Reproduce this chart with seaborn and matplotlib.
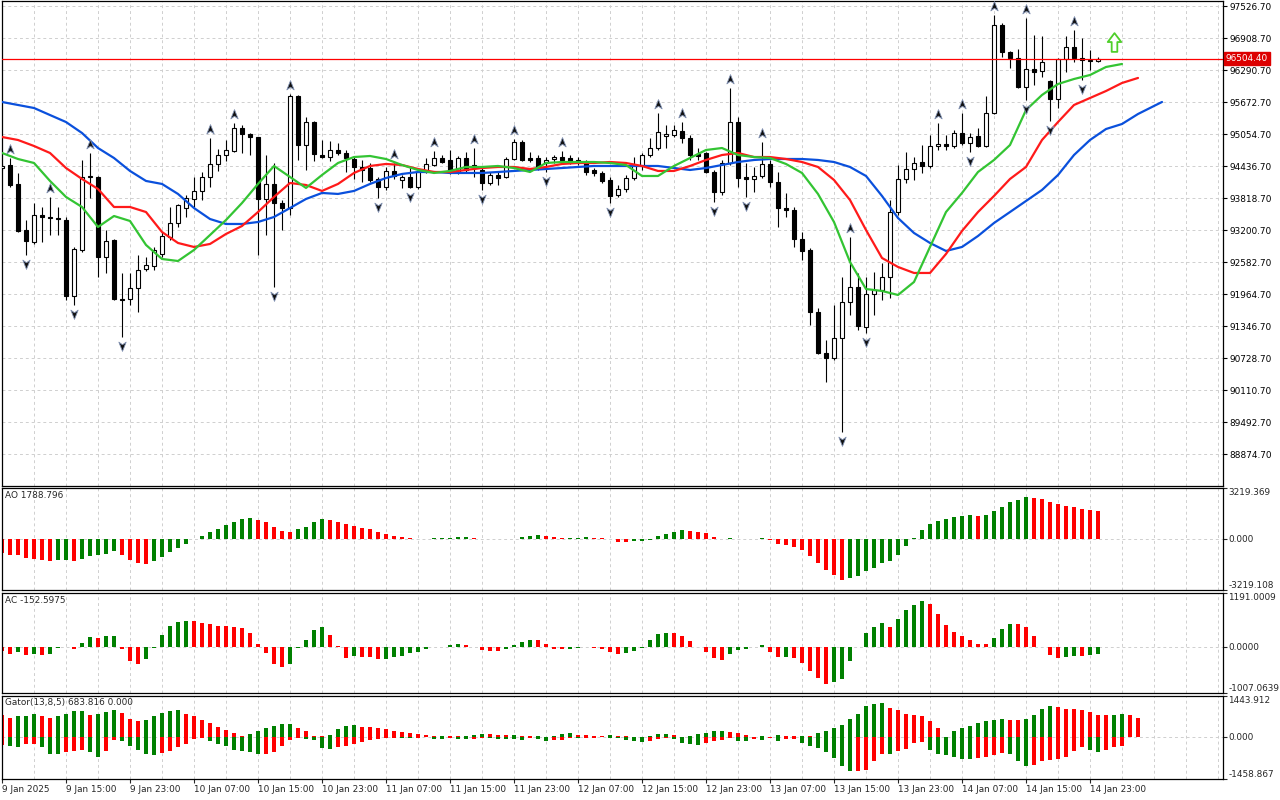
import numpy as np
import matplotlib
matplotlib.use("Agg")
import matplotlib.pyplot as plt
import seaborn as sns
from matplotlib.path import Path
from matplotlib import transforms

# ---------------- data ----------------
opens = [94398, 94456, 94090, 93201, 92969, 93490, 93452, 93432, 93394, 91926,
         92815, 94225, 94225, 92680, 93008, 91868, 91868, 92080, 92448, 92506,
         92738, 93066, 93336, 93626, 93800, 93955, 94225, 94476, 94649, 94727,
         95170, 95055, 94997, 93800, 94090, 93722, 93626, 95789, 94842, 95286,
         94649, 94610, 94746, 94688, 94572, 94418, 94398, 94186, 94032, 94341,
         94167, 94225, 94032, 94321, 94456, 94591, 94553, 94321, 94591, 94456,
         94360, 94109, 94263, 94225, 94572, 94900, 94591, 94591, 94495, 94572,
         94610, 94591, 94553, 94495, 94360, 94302, 94167, 93877, 93993, 94205,
         94437, 94649, 94785, 95016, 95035, 95113, 94978, 94668, 94688, 94321,
         93935, 94495, 95286, 94225, 94186, 94244, 94476, 94128, 93626, 93587,
         93027, 92815, 91617, 90826, 90729, 91116, 91810, 92100, 91328, 91965,
         92042, 92294, 93548, 94186, 94379, 94514, 94437, 94823, 94862, 94823,
         95074, 94881, 95016, 94823, 95460, 97160, 96638, 96523, 95963, 96310,
         96272, 96079, 95731, 96503, 96735, 96523, 96484, 96465]
highs = [94476, 94591, 94302, 93394, 93722, 93645, 93839, 93645, 93452, 92873,
         94553, 94688, 94244, 93201, 93027, 92371, 92371, 92718, 92680, 92873,
         93162, 93645, 93703, 93877, 94225, 94321, 94978, 94765, 94939, 95267,
         95228, 95074, 95000, 94649, 94495, 93780, 95828, 95808, 95383, 95306,
         94939, 94920, 94881, 94746, 94610, 94553, 94495, 94225, 94418, 94495,
         94263, 94418, 94341, 94591, 94727, 94649, 94746, 94630, 94707, 94785,
         94398, 94321, 94321, 94610, 94958, 94939, 94707, 94649, 94610, 94649,
         94727, 94649, 94610, 94553, 94398, 94341, 94225, 94070, 94263, 94610,
         94688, 94978, 95460, 95228, 95228, 95286, 95035, 94785, 94707, 94360,
         94553, 95943, 95383, 94495, 94418, 94900, 94553, 94321, 93916, 93645,
         93162, 92854, 91694, 91077, 91752, 92294, 93066, 92371, 92294, 92390,
         92564, 93780, 94456, 94707, 94610, 94842, 95035, 95267, 95035, 95132,
         95460, 95074, 95171, 95789, 97353, 97199, 96658, 96696, 97295, 96967,
         96948, 96098, 96523, 96948, 97063, 96909, 96677, 96542]
lows = [94360, 94032, 93162, 92718, 92931, 92969, 93104, 93104, 91849, 91752,
        92776, 93819, 92294, 92371, 91849, 91135, 91752, 91617, 92410, 92429,
        92680, 93008, 93259, 93452, 93645, 93780, 94032, 94341, 94534, 94707,
        94688, 94649, 92718, 93104, 92100, 93201, 93490, 94553, 94360, 94534,
        94591, 94534, 94649, 94321, 94186, 94128, 94128, 93819, 93974, 94186,
        94013, 94013, 93993, 94302, 94437, 94495, 94283, 94283, 94321, 94225,
        93974, 94070, 94070, 94205, 94553, 94534, 94514, 94360, 94321, 94495,
        94514, 94476, 94456, 94263, 94244, 94109, 93722, 93839, 93935, 94167,
        94360, 94610, 94746, 94785, 94997, 94881, 94553, 94553, 94302, 93742,
        93877, 94456, 94032, 93839, 93935, 94205, 94032, 93259, 93452, 92873,
        92622, 91366, 90807, 90265, 90690, 89300, 91559, 91270, 91212, 91559,
        91849, 91887, 93490, 94109, 94167, 94302, 94398, 94746, 94746, 94785,
        94842, 94707, 94804, 94804, 95441, 96542, 96330, 95943, 95712, 96001,
        96156, 95306, 95557, 96252, 96445, 96098, 96291, 96445]
closes = [94437, 94070, 93182, 92989, 93490, 93452, 93432, 93413, 91926, 92834,
          94225, 94244, 92680, 92989, 91868, 91849, 92080, 92429, 92525, 92815,
          93085, 93336, 93684, 93819, 93955, 94225, 94476, 94649, 94746, 95171,
          95055, 94997, 93800, 94090, 93722, 93626, 95789, 94842, 95286, 94668,
          94610, 94746, 94688, 94591, 94418, 94360, 94167, 94032, 94341, 94244,
          94225, 94032, 94321, 94476, 94591, 94514, 94321, 94591, 94360, 94418,
          94109, 94263, 94205, 94572, 94900, 94553, 94553, 94418, 94553, 94610,
          94553, 94534, 94514, 94321, 94302, 94148, 93858, 93993, 94205, 94456,
          94649, 94785, 95093, 95055, 95132, 94978, 94649, 94630, 94321, 93935,
          94495, 95286, 94205, 94186, 94244, 94476, 94128, 93626, 93587, 93027,
          92796, 91617, 90826, 90729, 91116, 91810, 92100, 91347, 91965, 92042,
          92294, 93548, 94186, 94379, 94495, 94437, 94823, 94862, 94823, 95074,
          94881, 94997, 94823, 95460, 97160, 96638, 96523, 95963, 96310, 96252,
          96445, 95731, 96503, 96735, 96523, 96484, 96465, 96504.40]

# Alligator lines (read every second bar; jaw shifted 8, teeth 5, lips 3 bars ahead)
jaw_bars = list(range(0, 146, 2)) + [145]
jaw_vals = [95673, 95615, 95557, 95421, 95286, 95074, 94784, 94591, 94341, 94148,
            94090, 93897, 93625, 93413, 93317, 93317, 93355, 93452, 93625, 93800,
            93916, 93897, 93955, 94090, 94205, 94283, 94321, 94321, 94302, 94302,
            94302, 94321, 94341, 94360, 94379, 94398, 94418, 94437, 94437, 94437,
            94437, 94437, 94398, 94360, 94398, 94456, 94514, 94553, 94572, 94572,
            94572, 94553, 94514, 94418, 94244, 93858, 93432, 93143, 92950, 92796,
            92873, 93085, 93336, 93548, 93761, 93974, 94263, 94649, 94939, 95151,
            95248, 95441, 95596, 95673]
teeth_bars = list(range(0, 143, 2))
teeth_vals = [94997, 94939, 94823, 94688, 94398, 94186, 93993, 93645, 93645, 93548,
              93162, 92950, 92873, 92931, 93124, 93278, 93548, 93839, 94109, 94070,
              93955, 94090, 94302, 94437, 94476, 94456, 94379, 94321, 94321, 94360,
              94398, 94418, 94418, 94379, 94418, 94476, 94495, 94495, 94514, 94495,
              94437, 94341, 94341, 94437, 94553, 94649, 94688, 94610, 94610, 94572,
              94514, 94418, 94167, 93780, 93201, 92660, 92487, 92371, 92371, 92738,
              93182, 93548, 93858, 94186, 94418, 94939, 95286, 95615, 95750, 95885,
              96040, 96137]
lips_bars = list(range(0, 141, 2))
lips_vals = [94688, 94572, 94495, 94148, 93839, 93645, 93259, 93471, 93375, 92912,
             92641, 92602, 92815, 93104, 93394, 93722, 94090, 94437, 94225, 94013,
             94263, 94495, 94610, 94630, 94572, 94456, 94360, 94302, 94341, 94418,
             94418, 94437, 94398, 94321, 94495, 94514, 94514, 94514, 94495, 94456,
             94244, 94244, 94437, 94591, 94746, 94784, 94649, 94610, 94591, 94476,
             94302, 93897, 93355, 92583, 92061, 92023, 91946, 92197, 92873, 93548,
             93916, 94321, 94553, 94842, 95518, 95808, 96020, 96117, 96194, 96349,
             96407]

fractal_up_bars = [1, 6, 11, 26, 29, 36, 49, 54, 59, 64, 70, 82, 85, 91, 95,
                   106, 117, 120, 124, 128, 134]
fractal_down_bars = [3, 9, 15, 34, 47, 51, 60, 68, 76, 89, 93, 105, 108, 121,
                     128, 131, 135]

current_price = 96504.40
signal_bar = 139
signal_price = 96822

ao_vals = [-886, -1030, -1035, -1195, -1236, -1339, -1401, -1339, -1318, -1401,
           -1257, -1092, -1030, -927, -783, -1030, -1339, -1545, -1566, -1401,
           -1154, -845, -577, -288, -21, 206, 453, 618, 865, 1071,
           1277, 1318, 1195, 1071, 742, 536, 453, 659, 742, 1071,
           1236, 1215, 1071, 927, 803, 700, 618, 453, 309, 185,
           124, 62, 21, 10, 41, 52, 82, 124, 128, 41,
           2, -21, -31, -10, 21, 103, 185, 247, 185, 103,
           62, 72, 93, 124, 82, 41, -21, -165, -175, -155,
           -124, -41, 185, 309, 453, 556, 494, 433, 371, 103,
           10, 41, 31, -10, 0, 62, -82, -288, -371, -494,
           -721, -1092, -1545, -1978, -2266, -2575, -2431, -2328, -2019, -1813,
           -1545, -1401, -989, -433, 41, 556, 927, 1112, 1236, 1360,
           1483, 1490, 1480, 1494, 1751, 2039, 2307, 2472, 2637, 2616,
           2513, 2348, 2225, 2101, 2039, 1895, 1854, 1788.796]
ac_vals = [-88, -146, -95, -168, -146, -168, -146, -22, 15, -37,
           88, 219, 197, 248, 252, -37, -314, -365, -256, -22,
           270, 467, 562, 577, 573, 540, 511, 475, 467, 438,
           416, 307, 73, -117, -365, -445, -365, -22, 161, 380,
           438, 270, 22, -234, -204, -219, -226, -270, -256, -226,
           -183, -131, -95, -44, 7, 15, 44, 66, 44, 7,
           -51, -73, -77, -29, 44, 124, 153, 150, 66, -29,
           -44, -29, -7, 15, -7, -29, -95, -139, -135, -73,
           -7, 161, 292, 314, 310, 248, 139, 0, -102, -234,
           -277, -146, -58, -37, 0, 44, -102, -212, -208, -234,
           -343, -518, -672, -803, -759, -694, -312, 7, 319, 435,
           536, 435, 616, 812, 921, 1008, 943, 725, 486, 341,
           247, 160, 73, 69, 210, 399, 508, 504, 435, 247,
           -3, -181, -239, -225, -189, -203, -165, -152.5975]
gator_upper = [771, 679, 736, 748, 805, 736, 690, 736, 828, 909,
               920, 782, 805, 886, 943, 851, 656, 575, 598, 736,
               863, 909, 943, 828, 736, 621, 506, 345, 253, 138,
               58, 104, 219, 311, 403, 449, 460, 311, 219, 58,
               35, 81, 276, 391, 426, 368, 345, 311, 276, 230,
               173, 138, 104, 81, 35, 58, 35, 29, 35, 69,
               104, 98, 92, 86, 92, 58, 35, 40, 6, 58,
               127, 138, 92, 69, 58, 52, 69, 58, 46, 23,
               6, 58, 127, 132, 92, 23, 58, 127, 161, 219,
               230, 196, 161, 92, 23, 58, 23, 81, 58, 52,
               58, 46, 138, 207, 322, 437, 633, 828, 1093, 1150,
               1208, 1024, 943, 828, 794, 736, 564, 334, 20, 219,
               334, 403, 483, 564, 598, 633, 598, 592, 633, 771,
               978, 1093, 1058, 978, 972, 966, 886, 782, 771, 794,
               799, 771, 683.816]
gator_lower = [265, 322, 328, 242, 230, 357, 575, 587, 529, 472,
               460, 529, 702, 472, 92, 127, 322, 437, 587, 633,
               564, 472, 357, 219, 58, 35, 127, 219, 299, 437,
               495, 529, 587, 575, 529, 288, 92, 35, 58, 92,
               380, 403, 357, 288, 242, 150, 104, 58, 23, 12,
               35, 40, 12, 6, 46, 69, 35, 46, 69, 58,
               23, 35, 46, 52, 69, 81, 12, 69, 138, 104,
               81, 35, 40, 23, 12, 6, 23, 35, 81, 138,
               173, 138, 69, 35, 69, 207, 219, 253, 184, 115,
               92, 23, 115, 138, 69, 104, 23, 138, 69, 58,
               207, 322, 391, 529, 725, 1001, 1185, 1162, 1127, 817,
               587, 598, 495, 403, 184, 150, 460, 587, 633, 702,
               748, 759, 725, 702, 633, 552, 587, 817, 1012, 978,
               840, 782, 776, 702, 495, 357, 460, 529, 460, 357,
               322]

price_ticks = [97526.70, 96908.70, 96290.70, 95672.70, 95054.70, 94436.70,
               93818.70, 93200.70, 92582.70, 91964.70, 91346.70, 90728.70,
               90110.70, 89492.70, 88874.70]
time_tick_bars = [0, 8, 16, 24, 32, 40, 48, 56, 64, 72, 80, 88, 96, 104, 112, 120, 128, 136]
time_labels = ["9 Jan 2025", "9 Jan 15:00", "9 Jan 23:00", "10 Jan 07:00", "10 Jan 15:00",
               "10 Jan 23:00", "11 Jan 07:00", "11 Jan 15:00", "11 Jan 23:00", "12 Jan 07:00",
               "12 Jan 15:00", "12 Jan 23:00", "13 Jan 07:00", "13 Jan 15:00", "13 Jan 23:00",
               "14 Jan 07:00", "14 Jan 15:00", "14 Jan 23:00"]
ao_range = (-3219.108, 3219.369)
ac_range = (-1007.0639, 1191.0009)
gator_range = (-1458.867, 1443.912)

# ---------------- styling ----------------
sns.set_style("white")
plt.rcParams['font.family'] = ['DejaVu Sans']
FS = 6.4
GREEN = '#008000'
RED = '#ff0000'
GRID = '#cfcfcf'

W, H = 1280, 800
fig = plt.figure(figsize=(12.8, 8), dpi=100)
fig.patch.set_facecolor('white')


def rect(x0, y0, x1, y1):
    return [x0 / W, 1 - y1 / H, (x1 - x0) / W, (y1 - y0) / H]


X0, X1 = 2, 1223
ax_m = fig.add_axes(rect(X0, 1, X1, 486))
ax_ao = fig.add_axes(rect(X0, 488, X1, 590), sharex=ax_m)
ax_ac = fig.add_axes(rect(X0, 593, X1, 693), sharex=ax_m)
ax_g = fig.add_axes(rect(X0, 696, X1, 779), sharex=ax_m)
axes = [ax_m, ax_ao, ax_ac, ax_g]

n = len(opens)
bars = np.arange(n)
o = np.array(opens, float); h = np.array(highs, float)
l = np.array(lows, float); c = np.array(closes, float)

for ax in axes:
    ax.set_facecolor('white')
    for s in ax.spines.values():
        s.set_color('black'); s.set_linewidth(0.9)
    for k in range(4, 153, 4):
        ax.axvline(k, color=GRID, lw=0.7, ls=(0, (3, 3)), zorder=0)
    ax.tick_params(axis='x', which='both', bottom=False, labelbottom=False)
    ax.yaxis.tick_right()

ax_m.set_xlim(0, (X1 - X0) / 8.0)

# main price scale (pixel-matched)
ax_m.set_ylim(97642.6 - 19.3125 * 486, 97642.6 - 19.3125 * 1)
for p in price_ticks:
    ax_m.axhline(p, color=GRID, lw=0.7, ls=(0, (3, 3)), zorder=0)
ax_m.set_yticks(price_ticks)
ax_m.set_yticklabels([f"{p:.2f}" for p in price_ticks])
ax_m.tick_params(axis='y', right=True, length=3, width=0.8, pad=1.5,
                 labelsize=FS, colors='black')

# candles
ax_m.vlines(bars, l, h, color='black', lw=0.8, zorder=2)
bull = c >= o
body_bottom = np.minimum(o, c)
body_h = np.abs(c - o)
ax_m.bar(bars, body_h, bottom=body_bottom, width=0.5,
         color=np.where(bull, 'white', 'black'), edgecolor='black',
         linewidth=0.8, zorder=3)

# alligator
sns.lineplot(x=jaw_bars, y=jaw_vals, ax=ax_m, color='#0a50dc', lw=1.6, zorder=4)
sns.lineplot(x=teeth_bars, y=teeth_vals, ax=ax_m, color='#ff1a1a', lw=1.6, zorder=4)
sns.lineplot(x=lips_bars, y=lips_vals, ax=ax_m, color='#33c433', lw=1.6, zorder=4)
ax_m.set_xlabel(''); ax_m.set_ylabel('')

# price line and tag
ax_m.axhline(current_price, color='#ff0000', lw=0.9, zorder=5)
tr = transforms.blended_transform_factory(ax_m.transAxes, ax_m.transData)
ax_m.text(1.0022, current_price, f"{current_price:.2f}", transform=tr, ha='left',
          va='center', fontsize=FS, color='white', zorder=6, clip_on=False,
          bbox=dict(boxstyle='square,pad=0.22', fc='#dd0000', ec='#dd0000'))

# fractals
up_path = Path([(0, 1), (0.75, -0.9), (0, -0.35), (-0.75, -0.9), (0, 1)],
               [Path.MOVETO, Path.LINETO, Path.LINETO, Path.LINETO, Path.CLOSEPOLY])
dn_path = Path([(0, -1), (0.75, 0.9), (0, 0.35), (-0.75, 0.9), (0, -1)],
               [Path.MOVETO, Path.LINETO, Path.LINETO, Path.LINETO, Path.CLOSEPOLY])
up_tr = transforms.offset_copy(ax_m.transData, fig=fig, x=0, y=9, units='dots')
dn_tr = transforms.offset_copy(ax_m.transData, fig=fig, x=0, y=-9, units='dots')
ax_m.plot(fractal_up_bars, h[fractal_up_bars], ls='none', marker=up_path, ms=7,
          mfc='#101010', mec='#7f8fb0', mew=0.6, transform=up_tr, zorder=6)
ax_m.plot(fractal_down_bars, l[fractal_down_bars], ls='none', marker=dn_path, ms=7,
          mfc='#101010', mec='#7f8fb0', mew=0.6, transform=dn_tr, zorder=6)

# buy signal arrow
arrow_path = Path([(0, 1), (0.72, 0.05), (0.3, 0.05), (0.3, -1), (-0.3, -1),
                   (-0.3, 0.05), (-0.72, 0.05), (0, 1)],
                  [Path.MOVETO] + [Path.LINETO] * 6 + [Path.CLOSEPOLY])
ax_m.plot([signal_bar], [signal_price], ls='none', marker=arrow_path, ms=13.5,
          mfc='white', mec='#4fcf2a', mew=1.3, zorder=6)


def colors_from(vals):
    v = np.asarray(vals, float)
    d = np.diff(v, prepend=v[0])
    return np.where(d > 0, GREEN, RED)


def sub_panel(ax, vals_list, rng, labels_txt, fmt, title):
    ax.set_ylim(*rng)
    ax.axhline(0, color=GRID, lw=0.7, ls=(0, (3, 3)), zorder=0)
    ax.set_yticks([rng[0], 0, rng[1]])
    ax.set_yticklabels([])
    ax.tick_params(axis='y', right=True, length=3, width=0.8)
    trr = transforms.blended_transform_factory(ax.transAxes, ax.transData)
    ax.text(1.0045, rng[1], fmt.format(rng[1]), transform=trr, ha='left', va='top',
            fontsize=FS, clip_on=False)
    ax.text(1.0045, 0, fmt.format(0.0), transform=trr, ha='left', va='center',
            fontsize=FS, clip_on=False)
    ax.text(1.0045, rng[0], fmt.format(rng[0]), transform=trr, ha='left',
            va='bottom', fontsize=FS, clip_on=False)
    ax.text(0.0025, 0.97, title, transform=ax.transAxes, ha='left', va='top',
            fontsize=FS)


# AO
ax_ao.bar(np.arange(len(ao_vals)), ao_vals, width=0.5, color=colors_from(ao_vals),
          linewidth=0, zorder=2)
sub_panel(ax_ao, ao_vals, ao_range, None, "{:.3f}", f"AO {ao_vals[-1]:.3f}")

# AC
ax_ac.bar(np.arange(len(ac_vals)), ac_vals, width=0.5, color=colors_from(ac_vals),
          linewidth=0, zorder=2)
sub_panel(ax_ac, ac_vals, ac_range, None, "{:.4f}", f"AC {ac_vals[-1]:.4f}")

# Gator
gu = np.array(gator_upper, float)
gl = np.array(gator_lower, float)
ax_g.bar(np.arange(len(gu)), gu, width=0.5, color=colors_from(gu), linewidth=0, zorder=2)
ax_g.bar(np.arange(len(gl)), -gl, width=0.5, color=colors_from(gl), linewidth=0, zorder=2)
sub_panel(ax_g, gu, gator_range, None, "{:.3f}",
          f"Gator(13,8,5) {gu[-1]:.3f} 0.000")

# time axis
ax_g.set_xticks(time_tick_bars)
ax_g.set_xticklabels(time_labels)
ax_g.tick_params(axis='x', bottom=True, labelbottom=True, length=3, width=0.8,
                 pad=1.2, labelsize=FS, direction='out')
for t in ax_g.get_xticklabels():
    t.set_horizontalalignment('left')
ax_g.set_xlim(0, (X1 - X0) / 8.0)

fig.savefig('out.png', dpi=100, facecolor='white')
